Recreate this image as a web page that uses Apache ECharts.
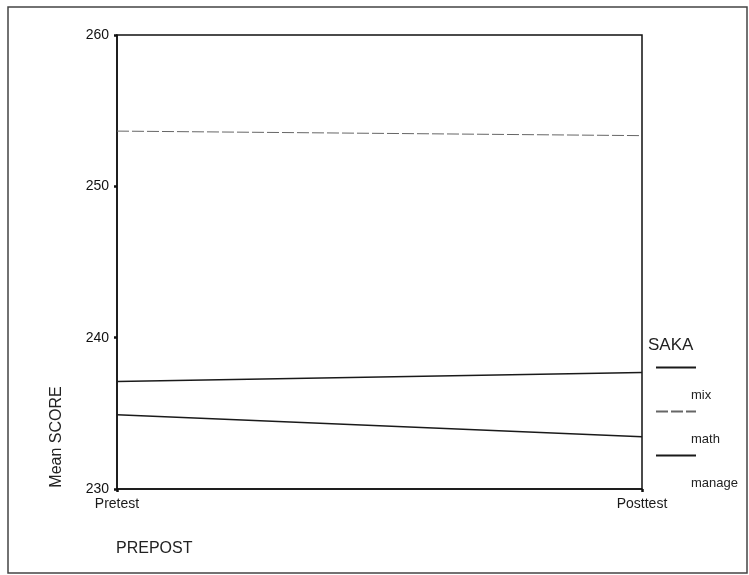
<!DOCTYPE html>
<html>
<head>
<meta charset="utf-8">
<script src="https://cdn.jsdelivr.net/npm/echarts@6/dist/echarts.min.js"></script>
<style>
  html, body { margin: 0; padding: 0; background: #fff; }
  #chart { width: 749px; height: 575px; }
</style>
</head>
<body>
<div id="chart"></div>
<script>
// Data
var categories = ['Pretest', 'Posttest'];
var seriesNames = ['mix', 'math', 'manage'];
var mixValues = [237.1, 237.7];
var mathValues = [253.65, 253.35];
var manageValues = [234.9, 233.45];
var yTicks = [230, 240, 250, 260];

var chart = echarts.init(document.getElementById('chart'), null, { renderer: 'canvas' });

var FONT = '"Liberation Sans", Arial, sans-serif';

var option = {
  backgroundColor: '#ffffff',
  animation: false,
  grid: {
    left: 117, right: 107, top: 35, bottom: 86,
    show: true, borderColor: '#111', borderWidth: 1.5, backgroundColor: 'transparent'
  },
  xAxis: {
    type: 'category',
    data: categories,
    boundaryGap: false,
    axisLine: { lineStyle: { color: '#111', width: 1.5 } },
    axisTick: { show: true, length: 3, lineStyle: { color: '#111', width: 2.5 } },
    axisLabel: { color: '#1a1a1a', fontSize: 14, fontFamily: FONT, margin: 8 },
    splitLine: { show: false }
  },
  yAxis: {
    type: 'value',
    min: yTicks[0],
    max: yTicks[yTicks.length - 1],
    interval: 10,
    axisLine: { show: true, lineStyle: { color: '#111', width: 1.5 } },
    axisTick: { show: true, length: 3, lineStyle: { color: '#111', width: 2.5 } },
    axisLabel: { color: '#111', fontSize: 14, fontFamily: FONT, margin: 8 },
    splitLine: { show: false }
  },
  legend: {
    orient: 'vertical',
    left: 650,
    top: 328,
    itemWidth: 40,
    itemHeight: 14,
    itemGap: -25,
    data: seriesNames,
    selectedMode: false,
    itemStyle: { opacity: 0 },
    formatter: '{t|{name}}',
    textStyle: {
      color: '#222', fontSize: 13, fontFamily: FONT,
      rich: { t: { color: '#222', fontSize: 13, fontFamily: FONT, lineHeight: 15, padding: [56, 0, 0, -10] } }
    }
  },
  graphic: [
    { type: 'rect', silent: true, shape: { x: 8, y: 7, width: 739, height: 566 },
      style: { fill: 'none', stroke: '#444', lineWidth: 1.5 } },
    { type: 'text', silent: true, x: 648, y: 345,
      style: { text: 'SAKA', font: '17px ' + FONT, fill: '#222', verticalAlign: 'middle' } },
    { type: 'text', silent: true, x: 116, y: 549,
      style: { text: 'PREPOST', font: '16px ' + FONT, fill: '#222', verticalAlign: 'middle' } },
    { type: 'text', silent: true, x: 57, y: 437, rotation: Math.PI / 2,
      style: { text: 'Mean SCORE', font: '16px ' + FONT, fill: '#222', align: 'center', verticalAlign: 'middle' } }
  ],
  series: [
    { name: 'mix', type: 'line', data: mixValues, symbol: 'none',
      lineStyle: { color: '#1a1a1a', width: 1.5 }, itemStyle: { color: '#1a1a1a' } },
    { name: 'math', type: 'line', data: mathValues, symbol: 'none',
      lineStyle: { color: '#666', width: 1, type: [12, 3] }, itemStyle: { color: '#666' } },
    { name: 'manage', type: 'line', data: manageValues, symbol: 'none',
      lineStyle: { color: '#1a1a1a', width: 1.5 }, itemStyle: { color: '#1a1a1a' } }
  ]
};

chart.setOption(option);
</script>
</body>
</html>
